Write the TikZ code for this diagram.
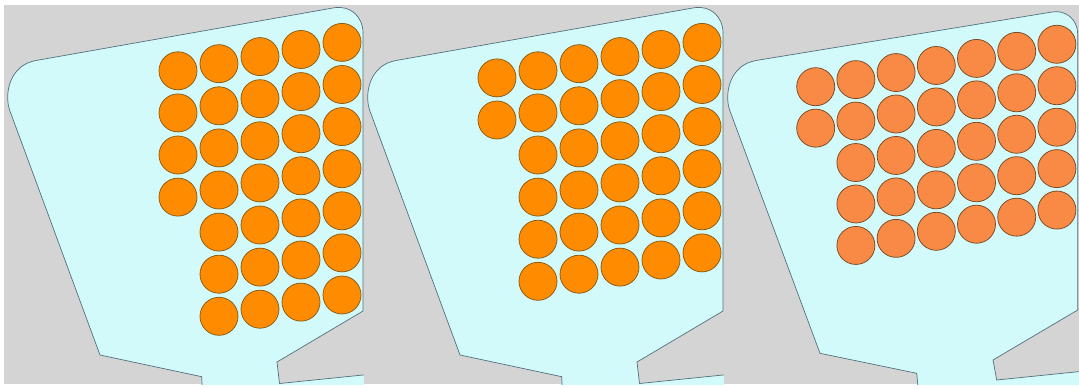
\documentclass[tikz,border=0pt]{standalone}
\definecolor{bg}{HTML}{D4D4D4}
\definecolor{plate}{HTML}{D3FAFA}
\definecolor{edge}{HTML}{52707C}
\definecolor{orgA}{HTML}{FF8C00}
\definecolor{orgB}{HTML}{F88A45}
\definecolor{rimA}{HTML}{8A5A10}
\definecolor{rimB}{HTML}{7A4A25}
\tikzset{
  platefill/.style={fill=plate, draw=edge, line width=0.7pt},
  ballA/.style={fill=orgA, draw=rimA, line width=0.75pt},
  ballB/.style={fill=orgB, draw=rimB, line width=0.75pt},
  panelbg/.style={fill=bg},
}
\begin{document}
\begin{tikzpicture}[x=1pt,y=-1pt]
\useasboundingbox (0,0) rectangle (1079,388);
\fill[white] (0,0) rectangle (1079,388);

% ---------- panel 1 ----------
\begin{scope}
  \clip (4,5) rectangle (364,384);
  \fill[panelbg] (4,5) rectangle (364,384);
  \draw[platefill] (202.7,400) -- (201.7,376.7) -- (100,355) -- (9.6,110)
    .. controls (4,93) and (10,65) .. (36,60.5) -- (334,7.8)
    .. controls (350,5) and (363,16.3) .. (363,33) -- (363,311) -- (277,362)
    -- (279.5,383.5) -- (370,374.3) -- (370,400) -- cycle;
  \foreach \i/\n in {0/3,1/6,2/6,3/6,4/6}
    \foreach \j in {0,...,\n}
      \draw[ballA] ({178+41*\i},{70.8-7.1*\i+42.1*\j}) circle[radius=19pt];
\end{scope}

% ---------- panel 2 ----------
\begin{scope}[shift={(360,0)}]
  \clip (4,5) rectangle (364,384);
  \fill[panelbg] (4,5) rectangle (364,384);
  \draw[platefill] (202.7,400) -- (201.7,376.7) -- (100,355) -- (9.6,110)
    .. controls (4,93) and (10,65) .. (36,60.5) -- (334,7.8)
    .. controls (350,5) and (363,16.3) .. (363,33) -- (363,311) -- (277,362)
    -- (279.5,383.5) -- (370,374.3) -- (370,400) -- cycle;
  \foreach \i/\n in {-1/1,0/5,1/5,2/5,3/5,4/5}
    \foreach \j in {0,...,\n}
      \draw[ballA] ({178+41*\i},{70.8-7.1*\i+42.1*\j}) circle[radius=19pt];
\end{scope}

% ---------- panel 3 ----------
\begin{scope}[shift={(720,0)}]
  \clip (4,5) rectangle (359,384);
  \fill[panelbg] (4,5) rectangle (359,384);
  \draw[platefill] (199.3,400) -- (196.7,373.3) -- (100,353.3) -- (9.6,110)
    .. controls (4,93) and (10,65) .. (36,60.5) -- (332,12)
    .. controls (346,9.6) and (357.7,19.7) .. (357.7,34) -- (357.7,310) -- (273,360)
    -- (276.7,380) -- (365,371) -- (365,400) -- cycle;
  \foreach \i/\n in {0/1,1/4,2/4,3/4,4/4,5/4,6/4}
    \foreach \j in {0,...,\n}
      \draw[ballB] ({95.7+40.2*\i},{86.7-7.07*\i+41.45*\j}) circle[radius=19pt];
\end{scope}
\end{tikzpicture}
\end{document}
